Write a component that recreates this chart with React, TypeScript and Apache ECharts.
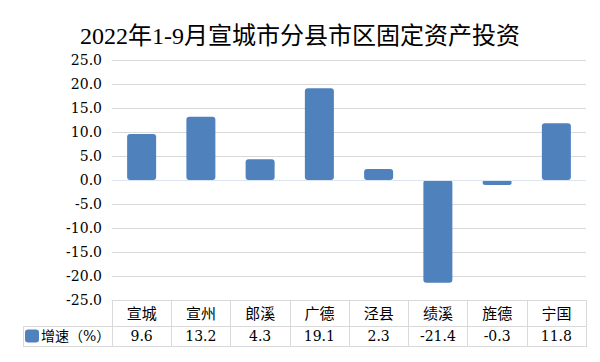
import React, { useEffect, useRef } from "react";
import * as echarts from "echarts";

const titleText = "2022年1-9月宣城市分县市区固定资产投资";
const categories = ["宣城", "宣州", "郎溪", "广德", "泾县", "绩溪", "旌德", "宁国"];
const growth = [9.6, 13.2, 4.3, 19.1, 2.3, -21.4, -0.3, 11.8];
const seriesName = "增速（%）";
const yMin = -25;
const yMax = 25;
const yStep = 5;

const FONT = "'DejaVu Serif', 'Noto Sans CJK SC', serif";
const GRID_COLOR = "#d9d9d9";
const BAR_COLOR = "#4F81BD";

export default function App() {
  const ref = useRef<HTMLDivElement>(null);
  useEffect(() => {
    if (!ref.current) return;
    const chart = echarts.init(ref.current, undefined, { renderer: "svg" });
    chart.setOption({
      animation: false,
      backgroundColor: "#ffffff",
      title: {
        text: titleText,
        left: "center",
        top: 19,
        textStyle: {
          fontFamily: "'Liberation Serif', 'Noto Sans CJK SC', serif",
          fontSize: 24,
          fontWeight: "normal",
          color: "#000",
        },
      },
      legend: {
        data: [seriesName],
        left: 25,
        top: 329,
        padding: 0,
        itemWidth: 14,
        itemHeight: 13,
        icon: "roundRect",
        selectedMode: false,
        textStyle: {
          fontFamily: FONT,
          fontSize: 14,
          color: "#000",
          padding: [0, 0, 0, -3],
        },
      },
      grid: { left: 112, right: 14, top: 60, bottom: 62, containLabel: false },
      yAxis: {
        type: "value",
        min: yMin,
        max: yMax,
        interval: yStep,
        axisLabel: {
          formatter: (v: number) => v.toFixed(1),
          margin: 10,
          fontFamily: FONT,
          fontSize: 14,
          color: "#000",
        },
        axisLine: { show: false },
        axisTick: { show: false },
        splitLine: { lineStyle: { color: GRID_COLOR, width: 1 } },
      },
      xAxis: [
        {
          type: "category",
          data: categories,
          position: "bottom",
          axisLine: { show: true, onZero: false, lineStyle: { color: GRID_COLOR } },
          axisTick: { show: true, length: 47, interval: 0, lineStyle: { color: GRID_COLOR } },
          axisLabel: {
            interval: 0,
            margin: 6,
            fontFamily: FONT,
            fontSize: 15,
            color: "#000",
          },
        },
        {
          type: "category",
          data: categories,
          position: "bottom",
          offset: 26,
          axisLine: { show: false, onZero: false },
          axisTick: { show: false },
          axisLabel: {
            interval: 0,
            margin: 3,
            fontFamily: FONT,
            fontSize: 14,
            color: "#000",
            formatter: (_v: string, i: number) => growth[i].toFixed(1),
          },
        },
      ],
      series: [
        {
          type: "bar",
          name: seriesName,
          data: growth,
          xAxisIndex: 0,
          barWidth: 29,
          barMinHeight: 5,
          itemStyle: {
            color: BAR_COLOR,
            borderRadius: 3,
          },
          markLine: {
            silent: true,
            symbol: "none",
            label: { show: false },
            lineStyle: { color: "#dce6f1", width: 1, type: "solid" },
            data: [{ yAxis: 0 }],
          },
        },
      ],
      graphic: [
        {
          type: "line",
          shape: { x1: 23, y1: 326.5, x2: 586, y2: 326.5 },
          style: { stroke: GRID_COLOR, lineWidth: 1 },
        },
        {
          type: "line",
          shape: { x1: 23, y1: 346.5, x2: 586, y2: 346.5 },
          style: { stroke: GRID_COLOR, lineWidth: 1 },
        },
        {
          type: "line",
          shape: { x1: 23.5, y1: 326.5, x2: 23.5, y2: 346.5 },
          style: { stroke: GRID_COLOR, lineWidth: 1 },
        },
      ],
    });
    return () => chart.dispose();
  }, []);
  return (
    <div
      ref={ref}
      style={{ position: "absolute", left: 0, top: 0, width: 600, height: 362 }}
    />
  );
}
